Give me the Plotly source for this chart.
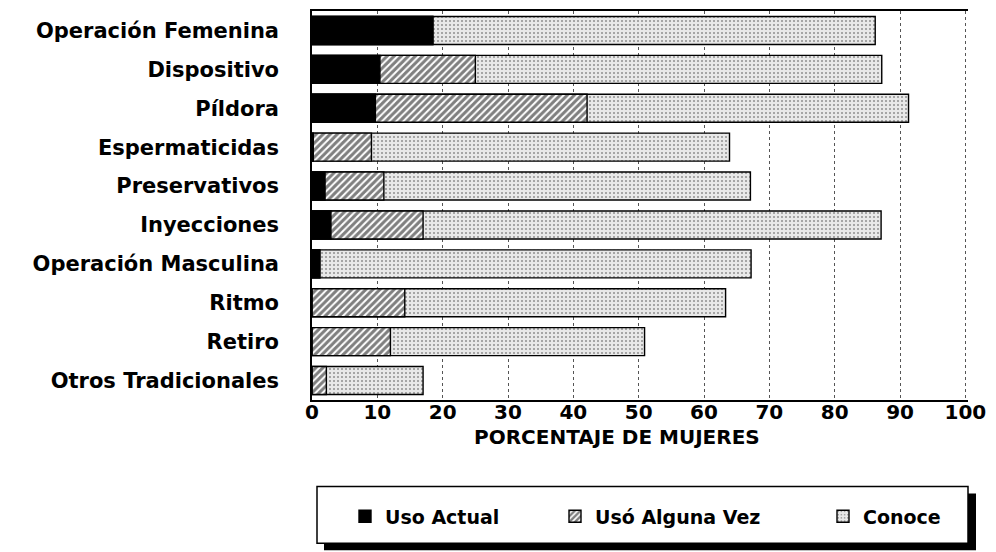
import plotly.graph_objects as go

categorias = ["Operación Femenina", "Dispositivo", "Píldora", "Espermaticidas",
              "Preservativos", "Inyecciones", "Operación Masculina", "Ritmo",
              "Retiro", "Otros Tradicionales"]
uso_actual = [18.5, 10.4, 9.7, 0.2, 2.0, 2.9, 1.2, 0.0, 0.0, 0.0]
uso_alguna_vez = [18.5, 25.0, 42.1, 9.1, 11.0, 17.0, 1.2, 14.2, 12.0, 2.2]
conoce = [86.2, 87.2, 91.3, 63.9, 67.1, 87.1, 67.2, 63.3, 50.9, 17.0]
x_ticks = list(range(0, 101, 10))

FONT = "DejaVu Sans"
OFF = 8  # page body margin
W, H = 996 - OFF, 552 - OFF
L, R, T, B = 312 - OFF, 28, 1, 152
PW, PH = W - L - R, H - T - B


def px(x):
    return (x - OFF - L) / PW


def py(y):
    return (H - B - (y - OFF)) / PH


line = dict(color="black", width=1.4)

fig = go.Figure()
fig.add_trace(go.Bar(
    y=categorias, x=conoce, orientation="h", name="Conoce", legend="legend4",
    marker=dict(color="#e4e4e4", line=line,
                pattern=dict(shape=".", fgcolor="#333333", bgcolor="#e8e8e8",
                             size=4, solidity=0.2)),
))
fig.add_trace(go.Bar(
    y=categorias, x=uso_alguna_vez, orientation="h", name="Usó Alguna Vez", legend="legend3",
    marker=dict(color="white", line=line,
                pattern=dict(shape="/", fgcolor="black", bgcolor="white",
                             size=5, solidity=0.6)),
))
fig.add_trace(go.Bar(
    y=categorias, x=uso_actual, orientation="h", name="Uso Actual", legend="legend2",
    marker=dict(color="black", line=line),
))

leg_common = dict(bgcolor="rgba(0,0,0,0)", borderwidth=0, orientation="h",
                  xanchor="left", yanchor="middle", y=py(517),
                  font=dict(family=FONT, size=19, color="black", weight="bold"))

fig.update_layout(
    width=W, height=H,
    margin=dict(l=L, r=R, t=T, b=B),
    paper_bgcolor="white", plot_bgcolor="white",
    barmode="overlay", bargap=0.28,
    font=dict(family=FONT, color="black"),
    legend2=dict(x=px(345), **leg_common),
    legend3=dict(x=px(555), **leg_common),
    legend4=dict(x=px(823), **leg_common),
    xaxis=dict(range=[0, 100.4], tickvals=x_ticks, ticktext=[str(v) for v in x_ticks],
               showgrid=True, gridcolor="#555555", griddash="dot", gridwidth=1,
               zeroline=False, showline=True, linecolor="black", linewidth=1.5,
               mirror=True, ticks="", ticklabelstandoff=-7,
               tickfont=dict(family=FONT, size=20, color="black", weight="bold")),
    yaxis=dict(categoryorder="array", categoryarray=categorias, autorange="reversed",
               showgrid=False, zeroline=False, showline=True, linecolor="black",
               linewidth=1.5, ticks="", ticklabelstandoff=27,
               tickfont=dict(family=FONT, size=21, color="black", weight="bold")),
    shapes=[
        dict(type="rect", xref="paper", yref="paper",
             x0=px(324), x1=px(976), y0=py(551), y1=py(494),
             fillcolor="black", line=dict(width=0), layer="above"),
        dict(type="rect", xref="paper", yref="paper",
             x0=px(317), x1=px(968), y0=py(544), y1=py(487),
             fillcolor="white", line=dict(color="black", width=1.5), layer="above"),
    ],
    annotations=[
        dict(text="PORCENTAJE DE MUJERES", xref="paper", yref="paper",
             x=px(617), y=py(437), xanchor="center", yanchor="middle",
             showarrow=False,
             font=dict(family=FONT, size=20, color="black", weight="bold")),
    ],
)

fig.write_html("out.html")
